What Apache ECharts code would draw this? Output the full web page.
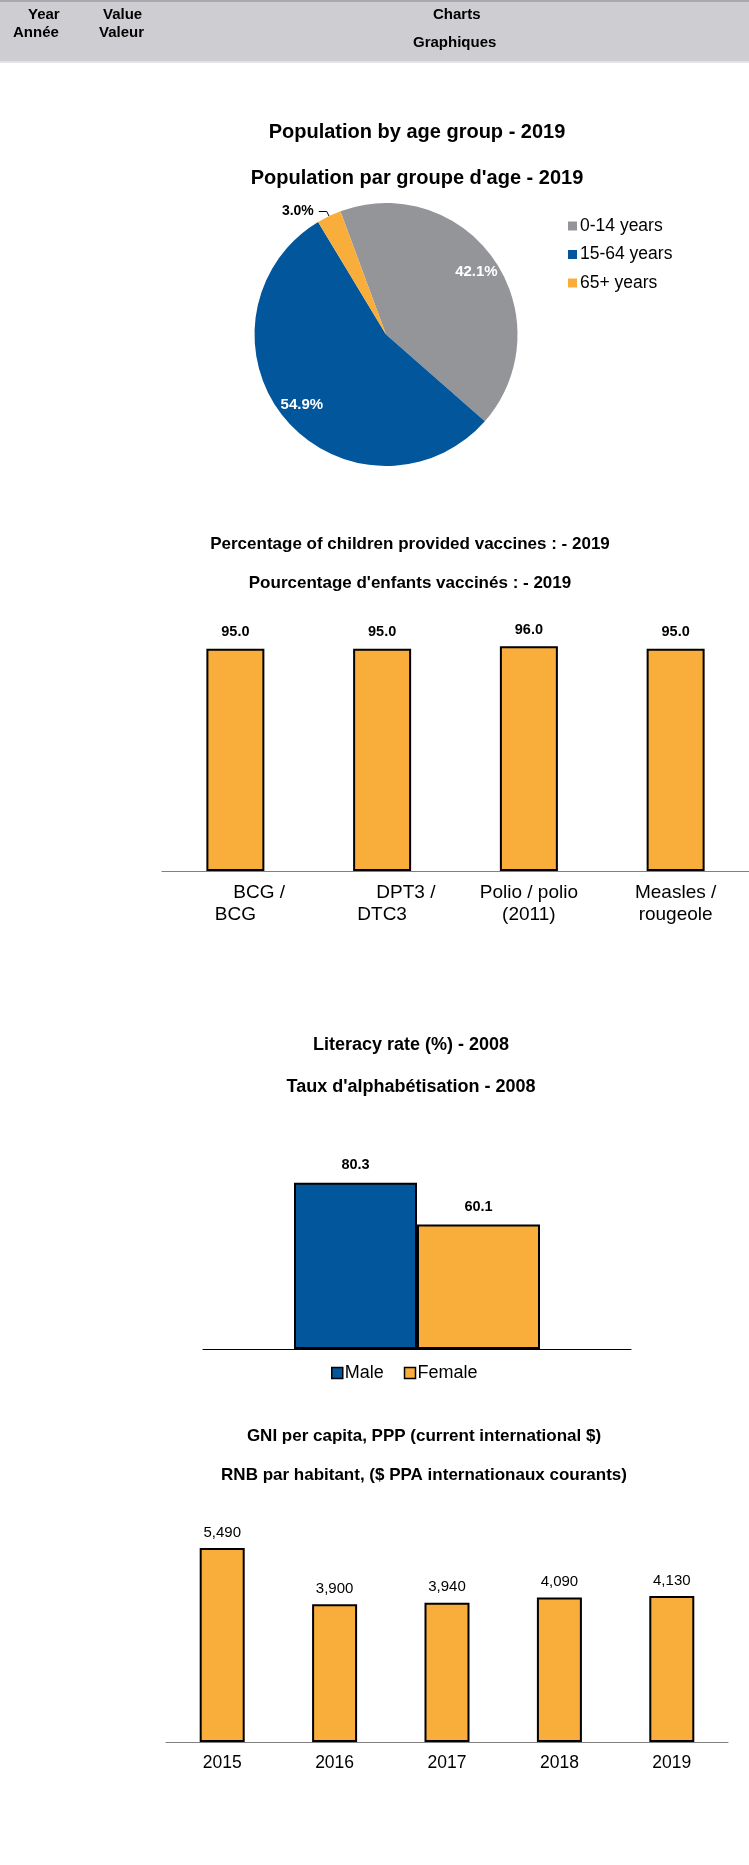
<!DOCTYPE html>
<html>
<head>
<meta charset="utf-8">
<script src="https://cdn.jsdelivr.net/npm/echarts@6/dist/echarts.min.js"></script>
<style>
html, body { margin: 0; padding: 0; background: #fff; }
#main { width: 749px; height: 1865px; }
</style>
</head>
<body>
<div id="main"></div>
<script>
// population by age group - 2019
var ageGroups = ['0-14 years', '15-64 years', '65+ years'];
var agePct = [42.1, 54.9, 3.0];

// vaccines - 2019
var vaccineCats = ['BCG /\nBCG', 'DPT3 /\nDTC3', 'Polio / polio\n(2011)', 'Measles /\nrougeole'];
var vaccinePct = [95.0, 95.0, 96.0, 95.0];

// literacy - 2008
var literacyGroups = ['Male', 'Female'];
var literacyRate = [80.3, 60.1];

// GNI per capita
var gniYears = ['2015', '2016', '2017', '2018', '2019'];
var gniValues = [5490, 3900, 3940, 4090, 4130];

var ORANGE = '#F9AE3B', BLUE = '#02569B', GREY = '#939598';
var FONT = '"Liberation Sans", Arial, sans-serif';

var chart = echarts.init(document.getElementById('main'));

function titleAt(text, x, y, size) {
    return {
        text: text, left: x, top: y, textAlign: 'center', padding: 0,
        textStyle: { fontFamily: FONT, fontSize: size, fontWeight: 'bold', color: '#000' }
    };
}

function headText(text, x, y) {
    return {
        type: 'text', left: x, top: y,
        style: { text: text, fill: '#000', font: 'bold 15px ' + FONT }
    };
}

var pieColors = [GREY, BLUE, ORANGE];
var pieData = ageGroups.map(function (n, i) {
    return {
        name: n, value: agePct[i], itemStyle: { color: pieColors[i] },
        labelLine: { show: i === 2 }
    };
});

var pctLabel = function (p) { return p.value.toFixed(1); };

var option = {
    animation: false,
    backgroundColor: '#fff',
    textStyle: { fontFamily: FONT },
    title: [
        titleAt('Population by age group - 2019', 417, 122, 20),
        titleAt("Population par groupe d'age - 2019", 417, 168, 20),
        titleAt('Percentage of children provided vaccines : - 2019', 410, 536, 17),
        titleAt("Pourcentage d'enfants vaccinés : - 2019", 410, 575, 17),
        titleAt('Literacy rate (%) - 2008', 411, 1036, 18),
        titleAt("Taux d'alphabétisation - 2008", 411, 1078, 18),
        titleAt('GNI per capita, PPP (current international $)', 424, 1428, 17),
        titleAt('RNB par habitant, ($ PPA internationaux courants)', 424, 1467, 17)
    ],
    graphic: [
        { type: 'rect', shape: { x: 0, y: 0, width: 749, height: 62 }, style: { fill: '#CECED2' } },
        { type: 'rect', shape: { x: 0, y: 0, width: 749, height: 2 }, style: { fill: '#A8A8AE' } },
        { type: 'rect', shape: { x: 0, y: 61, width: 749, height: 2 }, style: { fill: '#E4E4E6' } },
        headText('Year', 28, 7),
        headText('Année', 13, 25),
        headText('Value', 103, 7),
        headText('Valeur', 99, 25),
        headText('Charts', 433, 7),
        headText('Graphiques', 413, 35)
    ],
    legend: [
        {
            orient: 'vertical', left: 568, top: 217, padding: 0,
            data: ageGroups, icon: 'rect', itemWidth: 9, itemHeight: 9, itemGap: 10.5,
            textStyle: { fontSize: 17.5, color: '#000', padding: [0, 0, 0, -2] }
        },
        {
            orient: 'horizontal', left: 331, top: 1364, padding: 0,
            data: literacyGroups, icon: 'rect', itemWidth: 11, itemHeight: 11, itemGap: 20,
            itemStyle: { borderColor: '#000', borderWidth: 1.5 },
            textStyle: { fontSize: 18, color: '#000', padding: [0, 0, 0, -3] }
        }
    ],
    grid: [
        { left: 162, top: 637, width: 591, height: 234 },
        { left: 203, top: 1142, width: 428, height: 207 },
        { left: 166, top: 1530, width: 562, height: 212 }
    ],
    xAxis: [
        {
            type: 'category', gridIndex: 0, data: vaccineCats,
            axisLine: { lineStyle: { color: '#808080', width: 1.2 } },
            axisTick: { length: 5, lineStyle: { color: '#808080' } },
            axisLabel: {
                fontSize: 19, color: '#000', lineHeight: 22, margin: 11, interval: 0,
                formatter: function (v, i) { return i < 2 ? '         ' + v : v; }
            }
        },
        {
            type: 'category', gridIndex: 1, data: [''],
            axisLine: { lineStyle: { color: '#000', width: 1.2 } },
            axisTick: { length: 4, lineStyle: { color: '#000' } },
            axisLabel: { show: false }
        },
        {
            type: 'category', gridIndex: 2, data: gniYears,
            axisLine: { lineStyle: { color: '#808080', width: 1.2 } },
            axisTick: { length: 5, lineStyle: { color: '#808080' } },
            axisLabel: { fontSize: 17.5, color: '#000', margin: 12 }
        }
    ],
    yAxis: [
        { type: 'value', gridIndex: 0, min: 0, max: 100, show: false },
        { type: 'value', gridIndex: 1, min: 0, max: 100, show: false },
        { type: 'value', gridIndex: 2, min: 0, max: 6000, show: false }
    ],
    series: [
        {
            type: 'pie', center: [386, 334.5], radius: 131.5,
            startAngle: 110.3, clockwise: true, silent: true,
            data: pieData,
            label: {
                show: true, position: 'outside', color: '#000', fontWeight: 'bold', fontSize: 14,
                formatter: function (p) { return p.dataIndex === 2 ? p.value.toFixed(1) + '%' : ''; }
            },
            labelLine: { length: 5, length2: 8, lineStyle: { color: '#000', width: 1 } }
        },
        {
            // transparent ring only used to place the inner percentage labels further out
            type: 'pie', center: [386, 334.5], radius: [82, 131.5],
            startAngle: 110.3, clockwise: true, silent: true,
            data: ageGroups.map(function (n, i) { return { name: n, value: agePct[i] }; }),
            itemStyle: { color: 'rgba(0,0,0,0)' },
            label: {
                show: true, position: 'inside', color: '#fff', fontWeight: 'bold', fontSize: 15,
                formatter: function (p) { return p.dataIndex === 2 ? '' : p.value.toFixed(1) + '%'; }
            },
            labelLine: { show: false }
        },
        {
            type: 'bar', xAxisIndex: 0, yAxisIndex: 0, data: vaccinePct, barWidth: 58,
            itemStyle: { color: ORANGE, borderColor: '#000', borderWidth: 2 },
            label: {
                show: true, position: 'top', distance: 9, color: '#000', fontWeight: 'bold',
                fontSize: 14.5, formatter: pctLabel
            }
        },
        {
            name: 'Male', type: 'bar', xAxisIndex: 1, yAxisIndex: 1, data: [literacyRate[0]],
            barWidth: 123, barGap: '0%',
            itemStyle: { color: BLUE, borderColor: '#000', borderWidth: 2 },
            label: { show: true, position: 'top', distance: 10, color: '#000', fontWeight: 'bold',
                fontSize: 14.5, formatter: pctLabel }
        },
        {
            name: 'Female', type: 'bar', xAxisIndex: 1, yAxisIndex: 1, data: [literacyRate[1]],
            barWidth: 123, barGap: '0%',
            itemStyle: { color: ORANGE, borderColor: '#000', borderWidth: 2 },
            label: { show: true, position: 'top', distance: 10, color: '#000', fontWeight: 'bold',
                fontSize: 14.5, formatter: pctLabel }
        },
        {
            type: 'bar', xAxisIndex: 2, yAxisIndex: 2, data: gniValues, barWidth: 45,
            itemStyle: { color: ORANGE, borderColor: '#000', borderWidth: 2 },
            label: {
                show: true, position: 'top', distance: 8, color: '#000', fontSize: 15,
                formatter: function (p) { return p.value.toLocaleString('en-US'); }
            }
        }
    ]
};

chart.setOption(option);
</script>
</body>
</html>
